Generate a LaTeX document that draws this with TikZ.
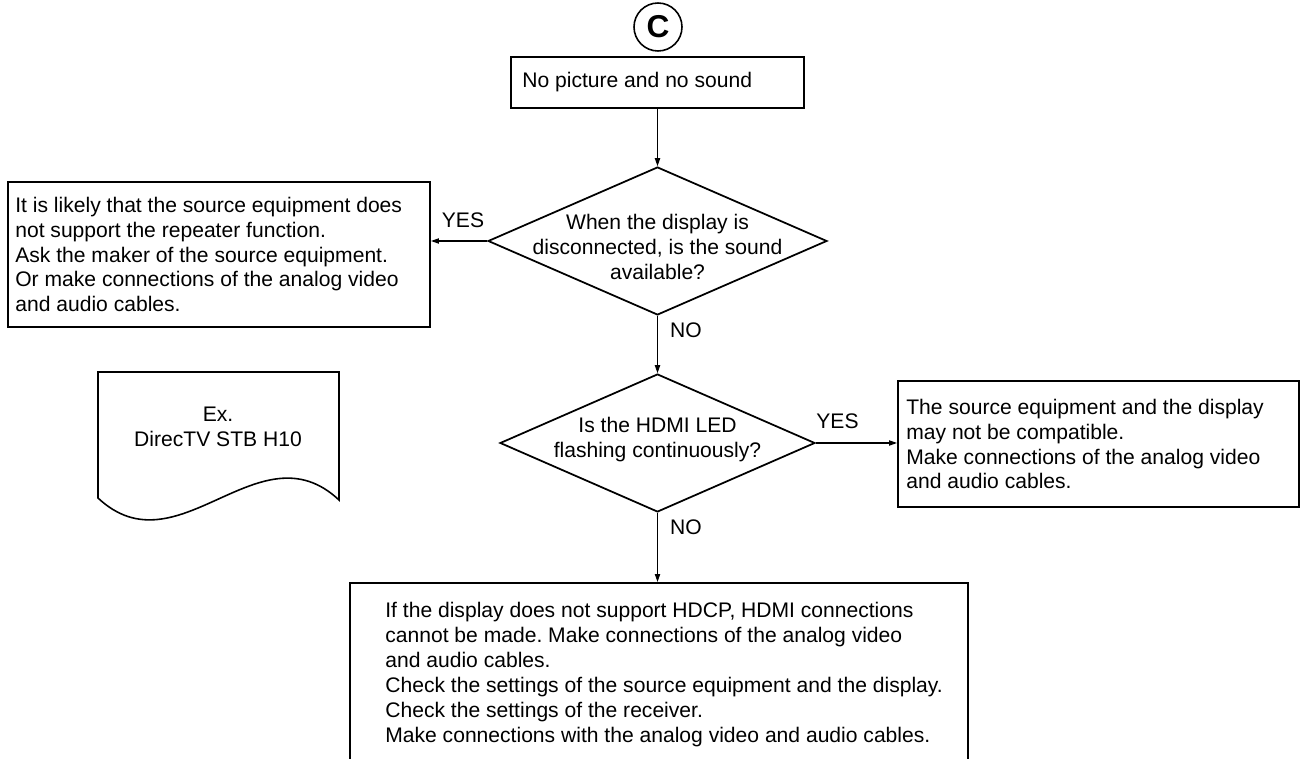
\documentclass[tikz,border=0pt]{standalone}
\usepackage{fontspec}
\setmainfont{Liberation Sans}
\usetikzlibrary{arrows.meta,shapes.geometric}
\frenchspacing

\begin{document}
\begin{tikzpicture}[x=0.02cm, y=-0.02cm,
  font=\fontsize{12}{14.2}\selectfont,
  box/.style={draw, line width=1.2pt, rectangle, inner sep=0pt},
  decision/.style={draw, line width=1pt, diamond, inner sep=0pt},
  txt/.style={align=left, inner sep=0pt},
  qtxt/.style={align=center, inner sep=0pt},
  flow/.style={line width=0.6pt, -{Triangle[length=4.5pt,width=3pt]}}]

\useasboundingbox (0,0) rectangle (1301,759);

  \node[circle, draw, line width=0.9pt, minimum size=0.96cm, inner sep=0pt,
        font=\fontsize{18}{18}\selectfont\bfseries] (start) at (658,27) {C};

  \node[box, minimum width=5.86cm, minimum height=1.02cm] (top) at (657.5,82.5) {};
  \node[txt, anchor=west] (toptxt) at ([xshift=0.24cm]top.west) {No picture and no sound};

  % first question
  \node[decision, minimum width=6.78cm, minimum height=2.96cm] (q1) at (657.5,241) {};
  \node[qtxt] (q1txt) at (657.5,247) {When the display is\\disconnected, is the sound\\available?};

  \node[box, minimum width=8.44cm, minimum height=2.9cm] (yesbox1) at (219,254.5) {};
  \node[txt, anchor=west] (yestxt1) at ([xshift=0.16cm]yesbox1.west)
   {It is likely that the source equipment does\\not support the repeater function.\\
    Ask the maker of the source equipment.\\Or make connections of the analog video\\and audio cables.};

  % second question
  \node[decision, minimum width=6.3cm, minimum height=2.76cm] (q2) at (657.5,443) {};
  \node[qtxt] (q2txt) at (657.5,440) {Is the HDMI LED\\flashing continuously?};

  \node[box, minimum width=8.02cm, minimum height=2.52cm] (yesbox2) at (1098.5,444) {};
  \node[txt, anchor=west] (yestxt2) at ([xshift=0.18cm]yesbox2.west)
   {The source equipment and the display\\may not be compatible.\\
    Make connections of the analog video\\and audio cables.};

  \node[box, minimum width=12.36cm, minimum height=3.66cm] (nobox) at (659,674.5) {};
  \node[txt, anchor=west] (notxt) at ([xshift=0.72cm]nobox.west)
   {If the display does not support HDCP, HDMI connections\\
    cannot be made. Make connections of the analog video\\and audio cables.\\
    Check the settings of the source equipment and the display.\\
    Check the settings of the receiver.\\
    Make connections with the analog video and audio cables.};

  % example sheet
  \draw[line width=0.9pt]
   (98,498) -- (98,372) -- (339,372) -- (339,500)
   .. controls (259,425) and (178,573) .. (98,498) -- cycle;
  \node[qtxt] (example) at (218,427) {Ex.\\DirecTV STB H10};

  \node (yes1) at (463,220) {YES};
  \node (no1) at (686,330) {NO};
  \node (yes2) at (837.5,421) {YES};
  \node (no2) at (686,527) {NO};

  \draw[flow] (top.south) -- (q1.north);
  \draw[flow] (q1.west) -- (q1.west -| yesbox1.east);
  \draw[flow] (q1.south) -- (q2.north);
  \draw[flow] (q2.east) -- (q2.east -| yesbox2.west);
  \draw[flow] (q2.south) -- (q2.south |- nobox.north);
\end{tikzpicture}
\end{document}
